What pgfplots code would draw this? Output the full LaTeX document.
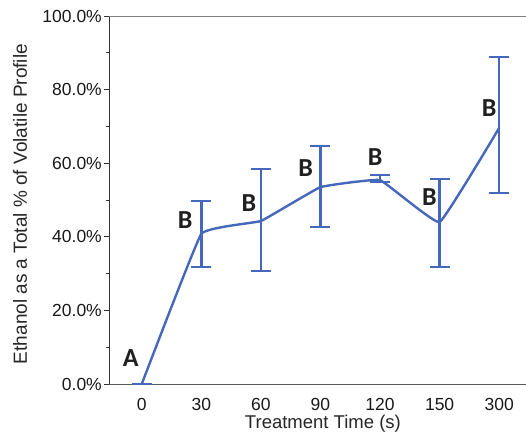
\documentclass[border=0pt]{standalone}
\usepackage{pgfplots}
\pgfplotsset{compat=1.18}
\usepackage{fontspec}
\setmainfont{Liberation Sans}
\newfontfamily\lblfont{Carlito}
\definecolor{ser}{RGB}{70,104,188}
\begin{document}
\begin{tikzpicture}
\begin{axis}[
  scale only axis, width=417pt, height=368pt,
  xmin=-0.55, xmax=6.45, ymin=0, ymax=100,
  axis x line*=bottom, axis y line*=left,
  x axis line style={black!65, line width=0.8pt},
  y axis line style={black!80, line width=0.8pt},
  xtick={0,1,2,3,4,5,6}, xticklabels={0,30,60,90,120,150,300},
  ytick={0,20,40,60,80,100},
  yticklabels={0.0\%,20.0\%,40.0\%,60.0\%,80.0\%,100.0\%},
  minor ytick={10,30,50,70,90},
  /pgf/number format/assume math mode=true,
  tick label style={font=\fontsize{17.5}{17.5}\selectfont, text=black!90},
  yticklabel style={inner sep=2pt},
  xticklabel style={yshift=-6pt},
  x tick style={draw=none},
  y tick style={black!80, line width=0.8pt},
  major tick length=5pt, minor tick length=3pt,
  tick align=outside,
  clip=false,
  every axis y label/.style={at={(axis description cs:-0.213,0.489)}, rotate=90, anchor=center, font=\fontsize{19}{19}\selectfont, text=black!85},
  every axis x label/.style={at={(axis description cs:0.513,-0.107)}, anchor=center, font=\fontsize{18.5}{18.5}\selectfont, text=black!85},
  ylabel={Ethanol as a Total \% of Volatile Profile},
  xlabel={Treatment Time (s)},
]
\draw[black!50, line width=0.8pt] (rel axis cs:0,1) -- (rel axis cs:1,1);
\addplot[ser, line width=2.4pt, smooth, tension=0.15, mark=none,
  error bars/.cd, y dir=both, y explicit,
  error bar style={line width=2.4pt, ser},
  error mark options={rotate=90, mark size=10pt, line width=2.4pt, ser}]
coordinates {
  (0,0) += (0,0) -= (0,0)
  (1,40.8) += (0,8.9) -= (0,9.0)
  (2,44.3) += (0,14.1) -= (0,13.6)
  (3,53.5) += (0,11.2) -= (0,10.8)
  (4,55.4) += (0,1.4) -= (0,0.5)
  (5,44.0) += (0,11.7) -= (0,12.2)
  (6,69.6) += (0,19.3) -= (0,17.7)
};
\tikzset{lab/.style={font=\lblfont\bfseries\fontsize{26}{26}\selectfont, text=black!88, inner sep=0pt}}
\node[lab] at (axis cs:-0.185,7.1) {A};
\node[lab] at (axis cs:0.73,44.6) {B};
\node[lab] at (axis cs:1.80,49.2) {B};
\node[lab] at (axis cs:2.75,58.7) {B};
\node[lab] at (axis cs:3.92,61.7) {B};
\node[lab] at (axis cs:4.83,50.8) {B};
\node[lab] at (axis cs:5.83,75.0) {B};
\end{axis}
\pgfresetboundingbox
\path ([shift={(-109pt,-48pt)}]current axis.south west) rectangle ([shift={(0pt,16pt)}]current axis.north east);
\end{tikzpicture}
\end{document}
